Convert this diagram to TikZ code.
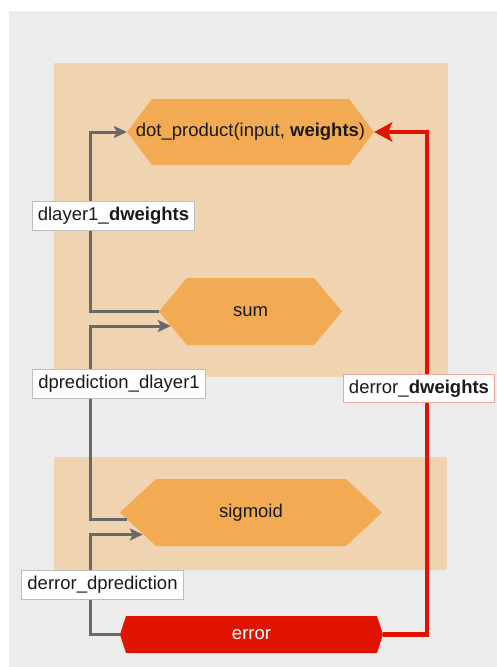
\documentclass[tikz,border=0pt]{standalone}
\usepackage{fontspec}
\setmainfont{Liberation Sans}
\usetikzlibrary{arrows.meta}

\definecolor{canvas}{HTML}{ECECEC}
\definecolor{band}{HTML}{F0D3B0}
\definecolor{op}{HTML}{F2AB52}
\definecolor{loss}{HTML}{E01400}
\definecolor{wire}{HTML}{686868}
\definecolor{ink}{HTML}{1A1A1A}
\definecolor{frame}{HTML}{BDBDBD}
\definecolor{lossframe}{HTML}{E9A79E}

\tikzset{
  every node/.style={font=\fontsize{18.5}{21}\selectfont, text=ink},
  % hexagon: width, height, tip depth, fill colour
  hexa/.style n args={4}{minimum width=#1, minimum height=#2, inner sep=0pt,
    path picture={\fill[#4]
      (path picture bounding box.west)
      -- ([xshift=#3]path picture bounding box.north west)
      -- ([xshift=-#3]path picture bounding box.north east)
      -- (path picture bounding box.east)
      -- ([xshift=-#3]path picture bounding box.south east)
      -- ([xshift=#3]path picture bounding box.south west) -- cycle;}},
  tag/.style={draw=frame, fill=white, line width=1pt, inner xsep=5.5pt,
    inner ysep=0pt, minimum height=28.5pt},
  losstag/.style={tag, draw=lossframe},
  wireline/.style={draw=wire, line width=3pt,
    -{Stealth[length=13pt,width=12pt,inset=3pt]}},
  lossline/.style={draw=loss, line width=4.5pt,
    -{Stealth[length=18pt,width=19pt,inset=4pt]}},
}

\begin{document}
\begin{tikzpicture}[x=1pt,y=-1pt]
  \useasboundingbox (0,0) rectangle (497,667);
  \fill[white] (0,0) rectangle (497,667);
  \fill[canvas] (9,11) rectangle (497,667);

  % layer bands
  \fill[band] (54,63) rectangle (448,377);
  \fill[band] (54,457) rectangle (447,570);

  % operations
  \node[hexa={247pt}{66pt}{25pt}{op}] (dot) at (250.5,132)
    {dot\_product(input, \textbf{weights})};
  \node[hexa={183pt}{67pt}{28pt}{op}] (sum) at (250.5,311.5) {sum};
  \node[hexa={262pt}{67pt}{36pt}{op}] (sig) at (251,512.5) {sigmoid};
  \node[hexa={263pt}{37pt}{6pt}{loss}, text=white] (err) at (251.5,634.5) {error};

  % backward connections
  \draw[wireline] (sum.west) -- ++(-68,0) |- (dot.west);
  \draw[wireline] ([shift={(7.6,7)}]sig.west) -- ++(-36.6,0)
    |- ([shift={(12,14.5)}]sum.west);
  \draw[wireline] (err.west) -- ++(-29,0) |- ([shift={(23,22)}]sig.west);
  \draw[lossline] (err.east) -- ++(44,0) |- (dot.east);

  % gradient labels
  \node[tag] (g1) at (113.5,216) {dlayer1\_\textbf{dweights}};
  \node[tag] (g2) at (119,384) {dprediction\_dlayer1};
  \node[tag] (g3) at (102.5,585) {derror\_dprediction};
  \node[losstag] (g4) at (419,388.5) {derror\_\textbf{dweights}};
\end{tikzpicture}
\end{document}
